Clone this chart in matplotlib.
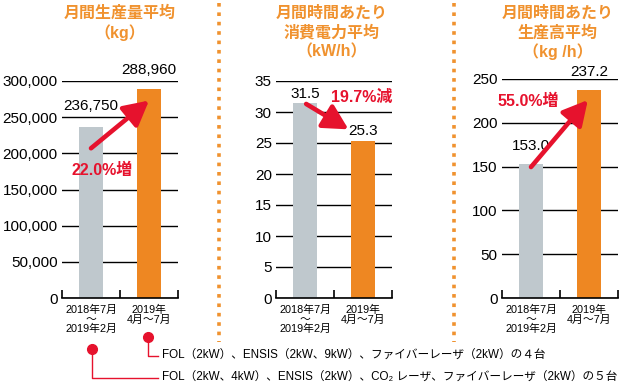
import matplotlib.pyplot as plt
from matplotlib.lines import Line2D
from matplotlib.ticker import FuncFormatter

# データ
periods = ['2018年7月\n～\n2019年2月', '2019年\n4月～7月']
production = [236750, 288960]
power = [31.5, 25.3]
output = [153.0, 237.2]
production_labels = ['236,750', '288,960']
power_labels = ['31.5', '25.3']
output_labels = ['153.0', '237.2']
changes = ['22.0%増', '19.7%減', '55.0%増']
titles = [
    ['月間生産量平均', '（kg）'],
    ['月間時間あたり', '消費電力平均', '（kW/h）'],
    ['月間時間あたり', '生産高平均', '（kg /h）'],
]
machines = [
    'FOL（2kW）、ENSIS（2kW、9kW）、ファイバーレーザ（2kW）の４台',
    'FOL（2kW、4kW）、ENSIS（2kW）、CO₂ レーザ、ファイバーレーザ（2kW）の５台',
]

GRAY = '#bfc8cd'
ORANGE = '#ee8722'
TITLE = '#f0922f'
RED = '#e6122d'
NUM = ['Liberation Sans', 'Noto Sans CJK JP', 'DejaVu Sans']

W, H = 620, 388
fig = plt.figure(figsize=(W / 100, H / 100), dpi=100)


def px(x, y):
    return x / W, 1 - y / H


def panel(left, top, values, labels, ymax, step, comma, label_off):
    bottom = 298
    ax = fig.add_axes([left / W, 1 - bottom / H, 116 / W, (bottom - top) / H])
    ax.bar([0, 1], values, width=0.41, color=[GRAY, ORANGE], zorder=2)
    ax.set_xlim(-0.5, 1.5)
    ax.set_ylim(0, ymax)
    ax.set_yticks(range(0, ymax + 1, step))
    if comma:
        ax.yaxis.set_major_formatter(FuncFormatter(lambda v, p: f'{v:,.0f}'))
    ax.yaxis.grid(True, color='black', linewidth=1)
    ax.set_axisbelow(True)
    for s in ['top', 'right', 'left']:
        ax.spines[s].set_visible(False)
    ax.spines['bottom'].set_linewidth(1.2)
    ax.tick_params(axis='y', length=0, pad=3, labelsize=11)
    for t in ax.get_yticklabels():
        t.set_family(NUM)
    ax.set_xticks([0, 1])
    ax.set_xticklabels(periods, family=NUM, fontsize=7.8, linespacing=0.92)
    ax.tick_params(axis='x', which='major', length=0, pad=5)
    ax.set_xticks([-0.5, 0.5, 1.5], minor=True)
    ax.tick_params(axis='x', which='minor', direction='in', length=6, width=1.2)
    for i, (v, lab) in enumerate(zip(values, labels)):
        ax.annotate(lab, (i, v), xytext=(0, label_off[i]), textcoords='offset points',
                    ha='center', va='center', fontsize=11, family=NUM)
    return ax


ax1 = panel(62, 81, production, production_labels, 300000, 50000, True, [15, 14])
ax2 = panel(276, 81, power, power_labels, 35, 5, False, [6, 7])
ax3 = panel(502, 79, output, output_labels, 250, 50, False, [13, 13])

arrow = dict(arrowstyle='-|>,head_length=0.75,head_width=0.4', color=RED, lw=3.3,
             shrinkA=0, shrinkB=0, mutation_scale=20)
ax1.annotate('', xy=(1.0, 273000), xytext=(0.0, 207000), arrowprops=arrow)
ax2.annotate('', xy=(0.75, 27.2), xytext=(0.02, 31.3), arrowprops=arrow)
ax3.annotate('', xy=(0.98, 226), xytext=(0.0, 149.5), arrowprops=arrow)

for ax, (x, y), txt in zip([ax1, ax2, ax3], [(0.19, 177000), (0.97, 32.3), (-0.05, 224)], changes):
    ax.text(x, y, txt, color=RED, fontsize=11.5, fontweight='bold',
            family=NUM, ha='center', va='center')

# タイトル
for cx, lines in zip([120, 332, 558], titles):
    for k, line in enumerate(lines):
        fig.text(*px(cx, 13 + k * 19.5), line, color=TITLE, fontsize=11.5,
                 fontweight='bold', family=NUM, ha='center', va='center')

# 区切り線
for x in [219, 454]:
    fig.add_artist(Line2D([x / W] * 2, [1 - 3 / H, 1 - 342 / H], color=TITLE,
                          linestyle=(0, (1, 1.6)), linewidth=2.6))

# 設備の注記
for (dx, dy), ty, txt in zip([(148, 337), (92, 349)], [356, 378], machines):
    fig.add_artist(Line2D([dx / W, dx / W, 158 / W], [1 - dy / H, 1 - ty / H, 1 - ty / H],
                          color=RED, linewidth=1))
    fig.add_artist(Line2D([dx / W], [1 - dy / H], marker='o', markersize=7,
                          color=RED, linestyle='none'))
    fig.text(*px(162, ty), txt, fontsize=8.4, family=NUM, ha='left', va='center')

plt.savefig('out.png', dpi=100)
